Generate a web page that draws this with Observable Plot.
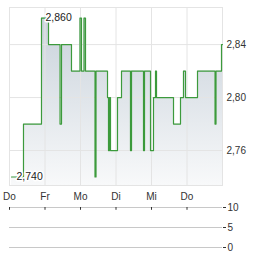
<!DOCTYPE html>
<html>
<head>
<meta charset="utf-8">
<script src="https://cdn.jsdelivr.net/npm/d3@7"></script>
<script src="https://cdn.jsdelivr.net/npm/@observablehq/plot@0.6"></script>
<style>
  html, body { margin: 0; padding: 0; background: #fff; }
  #chart { width: 264px; }
  #chart svg { display: block; }
</style>
</head>
<body>
<div id="chart"></div>
<script>
// Day labels on the x axis (trading days), positions as day index
const dayLabels = ["Do", "Fr", "Mo", "Di", "Mi", "Do"];
const dayTicks = [0, 1, 2, 3, 4, 5];

// Intraday price series (time as fractional day index, price in EUR)
const times = [0.056, 0.394, 0.901, 1.099, 1.423, 1.465, 1.746, 1.986, 2.028, 2.099,
  2.141, 2.408, 2.437, 2.761, 2.789, 2.817, 2.845, 3.042, 3.155, 3.408,
  3.437, 3.775, 3.803, 3.972, 4.056, 4.113, 4.141, 4.620, 4.817, 4.901,
  4.958, 5.296, 5.789, 5.817, 5.972, 6.0];
const prices = [2.74, 2.78, 2.86, 2.84, 2.78, 2.84, 2.82, 2.86, 2.82, 2.86,
  2.82, 2.74, 2.82, 2.80, 2.76, 2.80, 2.76, 2.80, 2.82, 2.76,
  2.82, 2.76, 2.82, 2.76, 2.80, 2.82, 2.80, 2.78, 2.80, 2.82,
  2.80, 2.82, 2.78, 2.82, 2.84, 2.84];

const priceTicks = [2.76, 2.80, 2.84];
const priceDomain = [2.7336, 2.868];

// Volume panel (no visible volume bars)
const volumeTicks = [0, 5, 10];
const volumeDomain = [0, 10];

const data = times.map((t, i) => ({t, p: prices[i]}));
const maxP = d3.max(prices), minP = d3.min(prices);
const maxPt = data.find(d => d.p === maxP);
const minPt = data.find(d => d.p === minP);

const de = d3.formatLocale({decimal: ",", thousands: ".", grouping: [3], currency: ["", " €"]});
const fmt2 = de.format(".2f");
const fmt3 = de.format(".3f");

const font = "'Liberation Sans', Arial, sans-serif";
const grid = "#e4e4e4";

const main = Plot.plot({
  width: 264, height: 203,
  marginTop: 7, marginBottom: 18, marginLeft: 9, marginRight: 42,
  style: {fontFamily: font, fontSize: "10px", color: "#333", background: "transparent", overflow: "visible"},
  x: {domain: [0, 6], ticks: dayTicks, tickFormat: i => dayLabels[i], tickSize: 0, tickPadding: 7, label: null},
  y: {domain: priceDomain, axis: "right", ticks: priceTicks, tickFormat: fmt2, tickSize: 0, tickPadding: 4, label: null},
  marks: [
    Plot.areaY(data, {x: "t", y1: priceDomain[0], y2: "p", curve: "step-after", fill: "url(#priceGrad)"}),
    Plot.ruleX(dayTicks, {stroke: grid}),
    Plot.ruleY(priceTicks, {stroke: grid}),
    Plot.frame({stroke: grid}),
    Plot.line(data, {x: "t", y: "p", curve: "step-after", stroke: "#3c9a3c", strokeWidth: 1.2}),
    Plot.text([maxPt], {x: "t", y: "p", text: d => fmt3(d.p), dx: 4, textAnchor: "start",
      fill: "#222", stroke: "white", strokeWidth: 3, fontSize: 10.5}),
    Plot.text([minPt], {x: "t", y: "p", text: d => fmt3(d.p), dx: 5, textAnchor: "start",
      fill: "#222", stroke: "white", strokeWidth: 3, fontSize: 10.5})
  ]
});

const defs = d3.select(main).insert("defs", ":first-child");
const g = defs.append("linearGradient").attr("id", "priceGrad")
  .attr("x1", 0).attr("y1", 0).attr("x2", 0).attr("y2", 1);
g.append("stop").attr("offset", 0).attr("stop-color", "#c9d2db");
g.append("stop").attr("offset", 1).attr("stop-color", "#f8f9fa");

const volume = Plot.plot({
  width: 264, height: 52,
  marginTop: 4, marginBottom: 8, marginLeft: 9, marginRight: 42,
  style: {fontFamily: font, fontSize: "10px", color: "#333", background: "transparent"},
  x: {domain: [0, 6], axis: null},
  y: {domain: volumeDomain, axis: "right", ticks: volumeTicks, tickSize: 3, tickPadding: 2, label: null},
  marks: [
    Plot.ruleY(volumeTicks, {stroke: "#c8c8c8"}),
    Plot.ruleX(dayTicks, {y1: 10, y2: 9.3, stroke: "#333"})
  ]
});

document.getElementById("chart").append(main, volume);
</script>
</body>
</html>
